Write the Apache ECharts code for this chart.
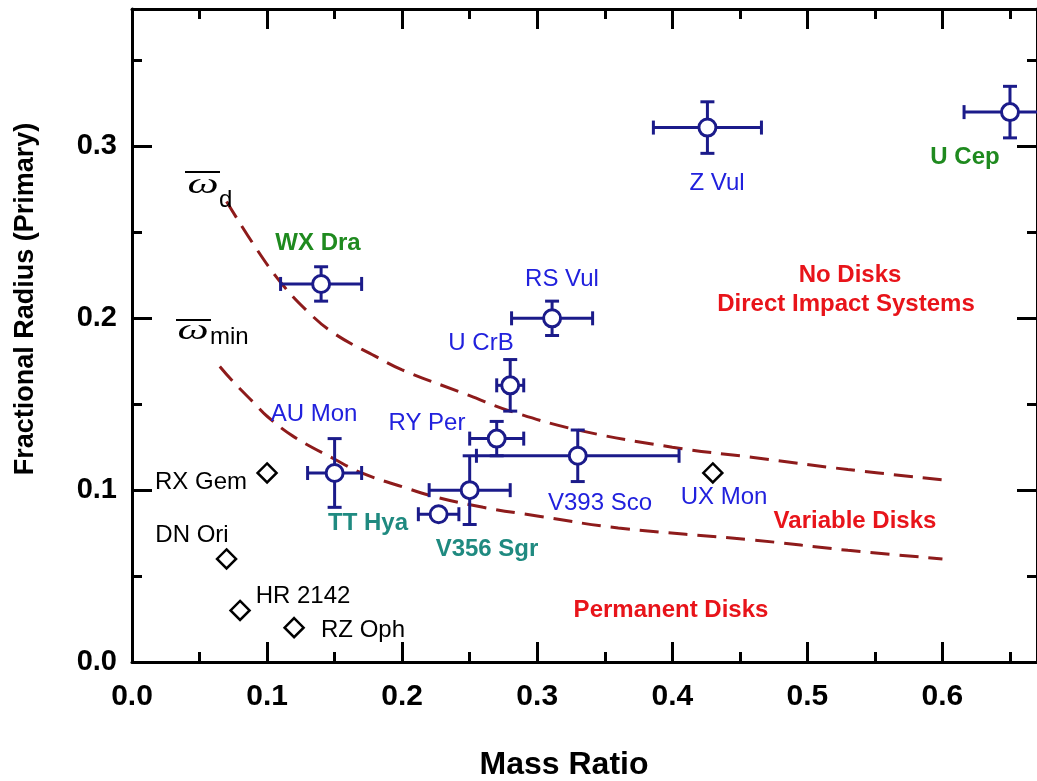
<!DOCTYPE html>
<html><head><meta charset="utf-8">
<script src="https://cdn.jsdelivr.net/npm/echarts@6/dist/echarts.min.js"></script>
<style>html,body{margin:0;padding:0;background:#fff}#c{width:1037px;height:781px}</style>
</head><body><div id="c"></div>
<script>
// ---- data ----
const starNames = ['WX Dra','AU Mon','TT Hya','V356 Sgr','RY Per','V393 Sco','U CrB','RS Vul','Z Vul','U Cep'];
const starQ     = [0.14, 0.15, 0.227, 0.25, 0.27, 0.33, 0.28, 0.311, 0.426, 0.65];
const starR     = [0.22, 0.11, 0.086, 0.10, 0.13, 0.12, 0.161, 0.20, 0.311, 0.32];
const starQErr  = [0.03, 0.02, 0.015, 0.03, 0.02, 0.075, 0.01, 0.03, 0.04, 0.034];
const starRErr  = [0.01, 0.02, 0.0,  0.02, 0.01, 0.015, 0.015, 0.01, 0.015, 0.015];

const diamondNames = ['RX Gem','DN Ori','HR 2142','RZ Oph','UX Mon'];
const diamondQ     = [0.10, 0.07, 0.08, 0.12, 0.43];
const diamondR     = [0.11, 0.06, 0.03, 0.02, 0.11];

const omegaDQ = [0.07, 0.09, 0.11, 0.13, 0.15, 0.18, 0.20, 0.25, 0.28, 0.33, 0.40, 0.46, 0.53, 0.60];
const omegaDR = [0.268, 0.243, 0.221, 0.204, 0.191, 0.178, 0.170, 0.155, 0.146, 0.135, 0.125, 0.119, 0.112, 0.106];
const omegaMinQ = [0.065, 0.075, 0.09, 0.10, 0.12, 0.15, 0.17, 0.20, 0.225, 0.26, 0.30, 0.36, 0.46, 0.53, 0.60];
const omegaMinR = [0.172, 0.163, 0.151, 0.143, 0.131, 0.118, 0.110, 0.102, 0.096, 0.090, 0.085, 0.078, 0.071, 0.065, 0.060];

const xTickStep = 0.1, yTickStep = 0.1;
const X_MAX = 0.67, Y_MAX = 0.38;

// ---- style ----
const NAVY = '#1b1b8a';
const BLUE = '#2121dd';
const GREEN = '#1f8a1f';
const TEAL = '#1f8a80';
const RED = '#e8141a';
const CURVE = '#8e1b1b';
const SANS = '"Liberation Sans", Arial, sans-serif';

const chart = echarts.init(document.getElementById('c'), null, {renderer:'canvas'});

function makeAxis(pos, step, len, showLine, showLabel, max, isX){
  return {
    type:'value', position:pos, min:0, max:max, interval:step,
    axisLine:{show:showLine, onZero:false, lineStyle:{color:'#000', width:3}},
    axisTick:{show:true, inside:true, length:len, lineStyle:{color:'#000', width:3}},
    axisLabel:{show:showLabel, showMaxLabel:false, margin: isX?20:15, color:'#000', fontWeight:'bold',
      fontFamily:SANS, fontSize: isX?30:29, formatter:v=>v.toFixed(1)},
    splitLine:{show:false}
  };
}

const errData = starQ.map((q,i)=>[q, starR[i], starQErr[i], starRErr[i]]);

const option = {
  backgroundColor:'#fff',
  animation:false,
  grid:{left:132, right:-8, top:9, bottom:119, containLabel:false},
  xAxis:[
    makeAxis('bottom', xTickStep, 20, true, true, X_MAX, true),
    makeAxis('bottom', xTickStep/2, 10, false, false, X_MAX, true),
    makeAxis('top', xTickStep, 20, true, false, X_MAX, true),
    makeAxis('top', xTickStep/2, 10, false, false, X_MAX, true)
  ],
  yAxis:[
    makeAxis('left', yTickStep, 20, true, true, Y_MAX, false),
    makeAxis('left', yTickStep/2, 10, false, false, Y_MAX, false),
    makeAxis('right', yTickStep, 20, true, false, Y_MAX, false),
    makeAxis('right', yTickStep/2, 10, false, false, Y_MAX, false)
  ],
  series:[
    {type:'line', name:'omega_d', data:omegaDQ.map((q,i)=>[q, omegaDR[i]]), smooth:0.4, symbol:'none',
      lineStyle:{color:CURVE, width:3, type:[19,10]}, z:2},
    {type:'line', name:'omega_min', data:omegaMinQ.map((q,i)=>[q, omegaMinR[i]]), smooth:0.4, symbol:'none',
      lineStyle:{color:CURVE, width:3, type:[19,10]}, z:2},
    {type:'custom', name:'errors', data:errData, encode:{x:0, y:1}, z:3,
      renderItem:function(params, api){
        const x=api.value(0), y=api.value(1), ex=api.value(2), ey=api.value(3);
        const l=api.coord([x-ex,y]), r=api.coord([x+ex,y]);
        const st={stroke:NAVY, lineWidth:3};
        const cap=7;
        const ch=[
          {type:'line', shape:{x1:l[0],y1:l[1],x2:r[0],y2:r[1]}, style:st},
          {type:'line', shape:{x1:l[0],y1:l[1]-cap,x2:l[0],y2:l[1]+cap}, style:st},
          {type:'line', shape:{x1:r[0],y1:r[1]-cap,x2:r[0],y2:r[1]+cap}, style:st}
        ];
        if(ey>0){
          const t=api.coord([x,y+ey]), b=api.coord([x,y-ey]);
          ch.push({type:'line', shape:{x1:t[0],y1:t[1],x2:b[0],y2:b[1]}, style:st});
          ch.push({type:'line', shape:{x1:t[0]-cap,y1:t[1],x2:t[0]+cap,y2:t[1]}, style:st});
          ch.push({type:'line', shape:{x1:b[0]-cap,y1:b[1],x2:b[0]+cap,y2:b[1]}, style:st});
        }
        return {type:'group', children:ch};
      }},
    {type:'scatter', name:'stars', data:starQ.map((q,i)=>[q, starR[i]]), symbol:'circle', symbolSize:17, z:4,
      itemStyle:{color:'#fff', borderColor:NAVY, borderWidth:3, opacity:1}},
    {type:'scatter', name:'noErr', data:diamondQ.map((q,i)=>[q, diamondR[i]]), symbol:'diamond', symbolSize:19, z:4,
      itemStyle:{color:'#fff', borderColor:'#000', borderWidth:2.5, opacity:1}}
  ],
  graphic:[]
};

function txt(text, x, y, color, bold, size, extra){
  return Object.assign({type:'text', x:x, y:y, silent:true, z:100,
    style:{text:text, fill:color, font:(bold?'bold ':'')+size+'px '+SANS,
      textAlign:'center', textVerticalAlign:'middle', align:'center', verticalAlign:'middle'}}, extra||{});
}
const g = [];
// axis titles
g.push(txt('Mass Ratio', 564, 765, '#000', true, 32));
g.push(txt('Fractional Radius (Primary)', 26, 299, '#000', true, 27, {rotation:Math.PI/2}));
// star labels
g.push(txt('WX Dra', 318, 243, GREEN, true, 24));
g.push(txt('U Cep', 965, 157, GREEN, true, 24));
g.push(txt('TT Hya', 368, 523, TEAL, true, 24));
g.push(txt('V356 Sgr', 487, 549, TEAL, true, 24));
g.push(txt('AU Mon', 314, 414, BLUE, false, 24));
g.push(txt('RY Per', 427, 423, BLUE, false, 24));
g.push(txt('V393 Sco', 600, 503, BLUE, false, 24));
g.push(txt('U CrB', 481, 343, BLUE, false, 24));
g.push(txt('RS Vul', 562, 279, BLUE, false, 24));
g.push(txt('Z Vul', 717, 183, BLUE, false, 24));
g.push(txt('UX Mon', 724, 497, BLUE, false, 24));
g.push(txt('RX Gem', 201, 482, '#000', false, 24));
g.push(txt('DN Ori', 192, 535, '#000', false, 24));
g.push(txt('HR 2142', 303, 596, '#000', false, 24));
g.push(txt('RZ Oph', 363, 630, '#000', false, 24));
// region labels
g.push(txt('No Disks', 850, 275, RED, true, 24));
g.push(txt('Direct Impact Systems', 846, 304, RED, true, 24));
g.push(txt('Variable Disks', 855, 521, RED, true, 24));
g.push(txt('Permanent Disks', 671, 610, RED, true, 24));
// omega labels
function omega(cx, baseY, lineX1, lineX2, lineY, sub, subX, subDy){
  g.push({type:'text', x:cx, y:baseY, silent:true, z:100, scaleX:1.7, scaleY:1.1,
    style:{text:'ω', fill:'#000', font:'italic 26px "Liberation Serif", "Times New Roman", serif',
      textAlign:'center', textVerticalAlign:'bottom', align:'center', verticalAlign:'bottom'}});
  g.push({type:'line', silent:true, z:100, shape:{x1:lineX1, y1:lineY, x2:lineX2, y2:lineY}, style:{stroke:'#000', lineWidth:2}});
  g.push({type:'text', x:subX, y:baseY+subDy, silent:true, z:100,
    style:{text:sub, fill:'#000', font:'24px '+SANS, textAlign:'left', textVerticalAlign:'bottom', align:'left', verticalAlign:'bottom'}});
}
omega(203, 200, 185, 220, 172, 'd', 219, 12);
omega(193, 346, 176, 211, 320, 'min', 210, 3);
option.graphic = g;
chart.setOption(option);
</script></body></html>
